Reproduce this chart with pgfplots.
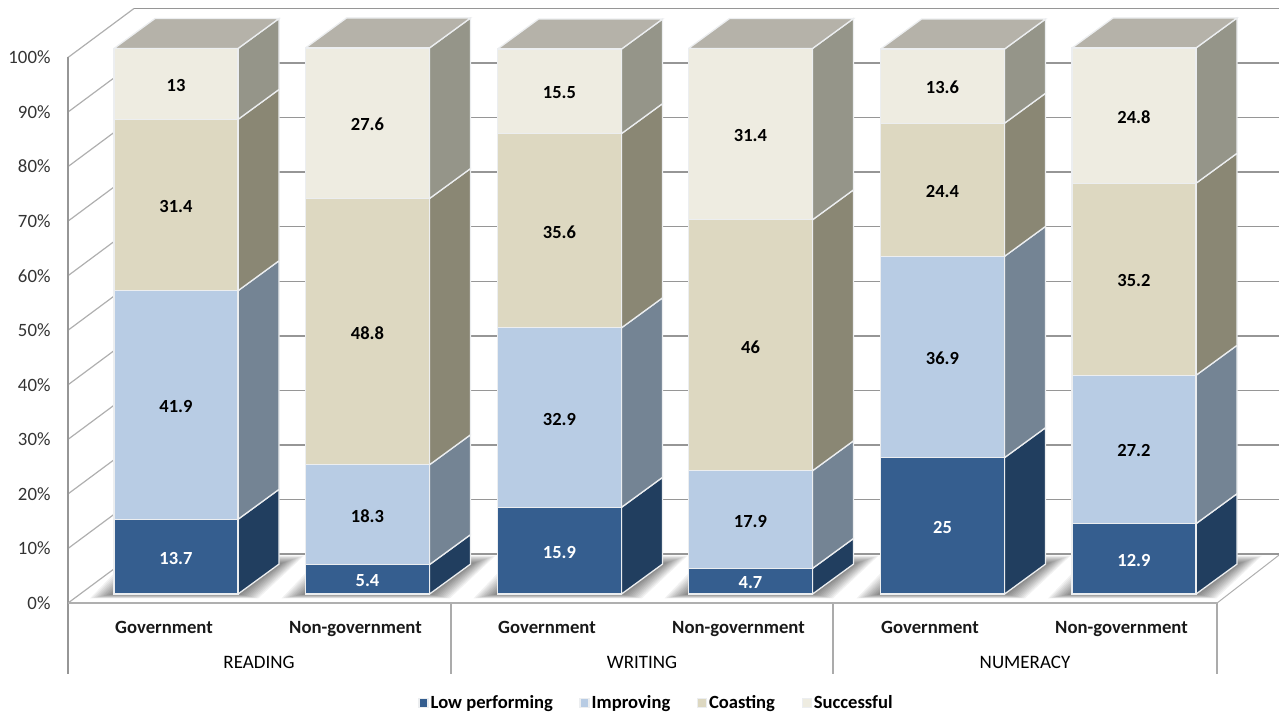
\documentclass[border=0pt]{standalone}
\usepackage{fontspec}
\setmainfont{Carlito}
\usepackage{pgfplots}
\usepackage{pgfplotstable}
\pgfplotsset{compat=1.18}

% Front colours and the darker tones used on the side faces
\definecolor{lowF}{RGB}{53,94,143}
\definecolor{lowS}{RGB}{33,62,95}
\definecolor{impF}{RGB}{184,204,228}
\definecolor{impS}{RGB}{116,132,148}
\definecolor{coaF}{RGB}{221,216,193}
\definecolor{coaS}{RGB}{138,135,116}
\definecolor{sucF}{RGB}{238,236,225}
\definecolor{sucS}{RGB}{149,149,137}
\definecolor{topF}{RGB}{181,178,169}
\definecolor{edgeC}{RGB}{236,238,240}
\definecolor{gridC}{RGB}{150,150,150}
\definecolor{wallC}{RGB}{175,175,175}

% Bar centre and the four stacked shares of each school sector
\pgfplotstableread{
c     low  imp  coast succ
176   13.7 41.9 31.4  13
367.5 5.4  18.3 48.8  27.6
559.5 15.9 32.9 35.6  15.5
750.5 4.7  17.9 46    31.4
942.5 25   36.9 24.4  13.6
1134  12.9 27.2 35.2  24.8
}\stacks

\newcommand\getcell[3]{\pgfplotstablegetelem{#1}{#2}\of\stacks\edef#3{\pgfplotsretval}}

% One slanted side face of a stacked segment: right edge, bottom, top, colour
\newcommand\sideface[4]{%
  \pgfmathsetmacro\xb{#1+41}%
  \pgfmathsetmacro\lob{#2+5.49}%
  \pgfmathsetmacro\hib{#3+5.49}%
  \edef\tmp{\noexpand\addplot[fill=#4,draw=edgeC,line width=1.3pt]
    coordinates {(#1,#2)(\xb,\lob)(\xb,\hib)(#1,#3)(#1,#2)};}\tmp}

% Side faces, lid and soft floor shadow of one bar
\newcommand\barbody[1]{%
  \getcell{#1}{c}\cx \getcell{#1}{low}\va \getcell{#1}{imp}\vb
  \getcell{#1}{coast}\vc \getcell{#1}{succ}\vd
  \pgfmathsetmacro\xl{\cx-62}%
  \pgfmathsetmacro\xr{\cx+62}%
  \pgfmathsetmacro\xbl{\xl+41}%
  \pgfmathsetmacro\xbr{\xr+41}%
  \pgfplotsforeachungrouped \k in {1,...,12}{%
    \pgfmathsetmacro\sa{\xl-2*\k}%
    \pgfmathsetmacro\sb{-0.065*\k}%
    \pgfmathsetmacro\se{\xr+1.7*\k}%
    \pgfmathsetmacro\sc{\xbr+2.1*\k}%
    \pgfmathsetmacro\sd{5.49+0.13*\k}%
    \pgfmathsetmacro\sf{\xbl-2*\k}%
    \edef\tmp{\noexpand\addplot[fill=black,fill opacity=0.05,draw=none]
      coordinates {(\sa,\sb)(\se,\sb)(\sc,\sd)(\sf,\sd)(\sa,\sb)};}\tmp}%
  \pgfmathsetmacro\ca{\va}%
  \pgfmathsetmacro\cb{\ca+\vb}%
  \pgfmathsetmacro\cc{\cb+\vc}%
  \pgfmathsetmacro\cd{\cc+\vd}%
  \sideface{\xr}{0}{\ca}{lowS}%
  \sideface{\xr}{\ca}{\cb}{impS}%
  \sideface{\xr}{\cb}{\cc}{coaS}%
  \sideface{\xr}{\cc}{\cd}{sucS}%
  \pgfmathsetmacro\hib{\cd+5.49}%
  \edef\tmp{\noexpand\addplot[fill=topF,draw=edgeC,line width=1.3pt]
    coordinates {(\xl,\cd)(\xr,\cd)(\xbr,\hib)(\xbl,\hib)(\xl,\cd)};}\tmp}

% Value label centred in a segment
\newcommand\seglabel[4]{%
  \pgfmathsetmacro\midv{#2+#3/2}%
  \edef\tmp{\noexpand\node[font=\noexpand\fontsize{18.5}{20}\noexpand\selectfont\noexpand\bfseries,
    text=#4,inner sep=0pt,yshift=-1.5pt] at (axis cs:#1,\midv) {#3};}\tmp}

\newcommand\barlabels[1]{%
  \getcell{#1}{c}\cx \getcell{#1}{low}\va \getcell{#1}{imp}\vb
  \getcell{#1}{coast}\vc \getcell{#1}{succ}\vd
  \pgfmathsetmacro\ca{\va}%
  \pgfmathsetmacro\cb{\ca+\vb}%
  \pgfmathsetmacro\cc{\cb+\vc}%
  \seglabel{\cx}{0}{\va}{white}%
  \seglabel{\cx}{\ca}{\vb}{black}%
  \seglabel{\cx}{\cb}{\vc}{black}%
  \seglabel{\cx}{\cc}{\vd}{black}}

\pgfplotsset{
  frame/.style={
    scale only axis,width=1279pt,height=713pt,
    xmin=0,xmax=1279,ymin=-21.8,ymax=108.89,
  },
  swatch/.style={legend image code/.code={\fill[fill=#1] (-3pt,-4.5pt) rectangle (6pt,4.5pt);}},
}

\begin{document}
\begin{tikzpicture}
% Walls, floor, axis labels and the 3D parts lying behind the fronts
\begin{axis}[frame,
  axis line style={draw=none},
  major tick length=0pt,
  tick style={draw=none},
  xtick={164,355.5,547,738.5,930,1121.5},
  xticklabels={Government,Non-government,Government,Non-government,Government,Non-government},
  xticklabel style={font=\fontsize{18.7}{20}\selectfont\bfseries,text=black!90,yshift=95.5pt},
  ytick={-1.65,8.35,18.35,28.35,38.35,48.35,58.35,68.35,78.35,88.35,98.35},
  yticklabels={0\%,10\%,20\%,30\%,40\%,50\%,60\%,70\%,80\%,90\%,100\%},
  yticklabel style={font=\fontsize{18.8}{20}\selectfont,text=black!80,anchor=east,xshift=54pt},
]
  % Back wall gridlines and the slanted lines on the side wall
  \pgfplotsforeachungrouped \p in {0,10,...,100}{%
    \pgfmathsetmacro\ya{\p-1.65}%
    \pgfmathsetmacro\yb{\p+7.33}%
    \edef\tmp{\noexpand\addplot[gridC,line width=1.5pt]
      coordinates {(134,\yb)(1279,\yb)};}\tmp
    \edef\tmp{\noexpand\addplot[wallC,line width=1.2pt]
      coordinates {(68,\ya)(134,\yb)};}\tmp}
  % Axis frame below and left of the plot
  \addplot[gridC,line width=1.2pt] coordinates {(68,98.35)(68,-14.65)};
  \addplot[gridC!80,line width=1.2pt] coordinates {(451,-1.65)(451,-14.65)};
  \addplot[gridC!80,line width=1.2pt] coordinates {(833,-1.65)(833,-14.65)};
  \addplot[gridC!80,line width=1.2pt] coordinates {(1217,-1.65)(1217,-14.65)};
  \addplot[wallC,line width=1pt] coordinates {(1217,-1.65)(1279,7.14)};
  \pgfplotsinvokeforeach{0,...,5}{\barbody{#1}}
  \addplot[wallC,line width=1.8pt] coordinates {(68,-1.65)(1217,-1.65)};
  \node[font=\fontsize{19}{20}\selectfont,text=black] at (axis cs:259,-12.6) {READING};
  \node[font=\fontsize{19}{20}\selectfont,text=black] at (axis cs:642,-12.6) {WRITING};
  \node[font=\fontsize{19}{20}\selectfont,text=black] at (axis cs:1025,-12.6) {NUMERACY};
\end{axis}
% Front faces of the stacked bars and the legend
\begin{axis}[frame,hide axis,
  ybar stacked,bar width=124,
  legend columns=4,
  legend style={at={(axis cs:656.5,-19.96)},anchor=center,draw=none,fill=none,
    font=\fontsize{18.6}{20}\selectfont\bfseries,inner sep=0pt,
    /tikz/every even column/.append style={column sep=24.5pt}},
]
  \addplot[fill=lowF,draw=edgeC,line width=1.3pt,swatch=lowF] table[x=c,y=low]{\stacks};
  \addplot[fill=impF,draw=edgeC,line width=1.3pt,swatch=impF] table[x=c,y=imp]{\stacks};
  \addplot[fill=coaF,draw=edgeC,line width=1.3pt,swatch=coaF] table[x=c,y=coast]{\stacks};
  \addplot[fill=sucF,draw=edgeC,line width=1.3pt,swatch=sucF] table[x=c,y=succ]{\stacks};
  \legend{Low performing,Improving,Coasting,Successful}
\end{axis}
% Values printed on the segments
\begin{axis}[frame,hide axis]
  \pgfplotsinvokeforeach{0,...,5}{\barlabels{#1}}
\end{axis}
\end{tikzpicture}
\end{document}
